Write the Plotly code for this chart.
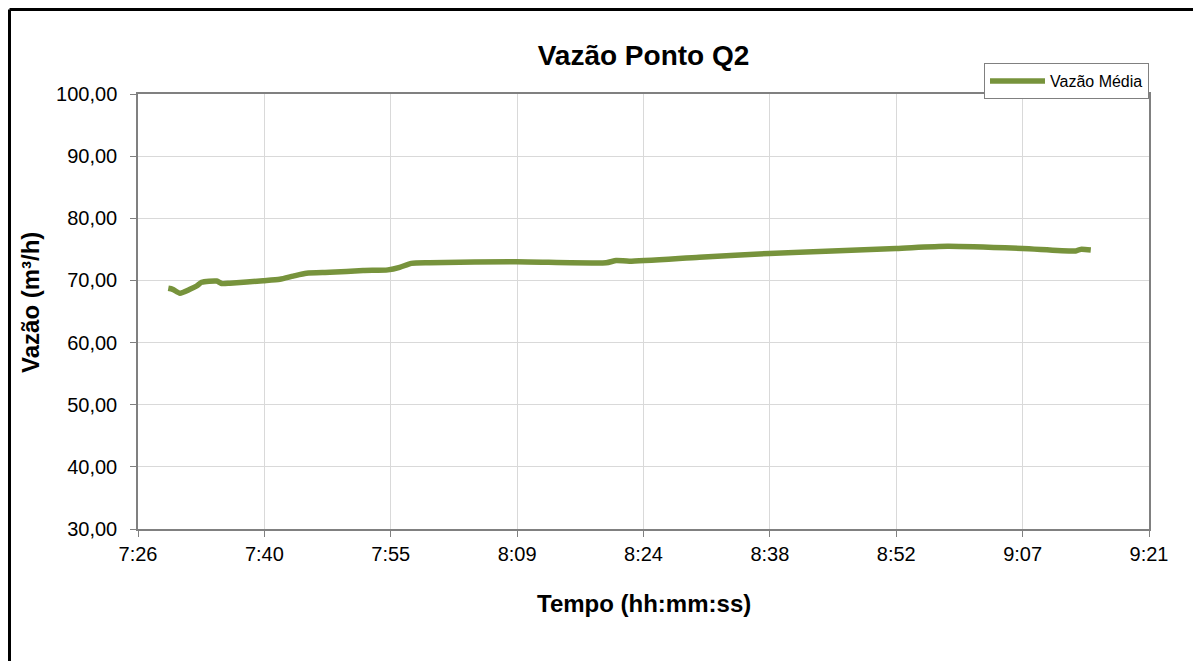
import plotly.graph_objects as go

# Data
times = ["7:29:51", "7:30:21", "7:31:11", "7:32:19", "7:33:05", "7:33:39", "7:35:22",
         "7:35:56", "7:36:52", "7:40:40", "7:42:34", "7:44:05", "7:45:36", "7:48:16",
         "7:52:03", "7:54:53", "7:56:13", "7:57:33", "7:59:38", "8:09:31", "8:19:45",
         "8:20:53", "8:22:24", "8:30:22", "8:38:20", "8:52:46", "8:58:38", "9:07:10",
         "9:13:15", "9:13:49", "9:14:58"]
vazao = [68.73, 68.57, 67.95, 68.57, 69.1, 69.7, 69.9,
         69.5, 69.55, 69.96, 70.2, 70.7, 71.15, 71.3,
         71.6, 71.7, 72.1, 72.75, 72.85, 73.0, 72.85,
         73.2, 73.1, 73.75, 74.35, 75.15, 75.5, 75.15,
         74.75, 75.0, 74.9]
tick_days = [0.31, 0.32, 0.33, 0.34, 0.35, 0.36, 0.37, 0.38, 0.39]
tick_labels = ["7:26", "7:40", "7:55", "8:09", "8:24", "8:38", "8:52", "9:07", "9:21"]


def to_min(s):
    h, m, sec = (int(v) for v in s.split(":"))
    return h * 60 + m + sec / 60.0


x_min = [to_min(t) for t in times]
tick_min = [d * 1440 for d in tick_days]

fig = go.Figure()
fig.add_trace(go.Scatter(
    x=x_min, y=vazao, mode="lines", name="Vazão Média",
    line=dict(color="#77933C", width=5.5, shape="spline", smoothing=0.6),
))

font = "Liberation Sans, Arial, sans-serif"
W, H = 1201, 661
L, R, T, B = 130, 60, 86, 140
pw, ph = W - L - R, H - T - B
bottom = H - B

fig.update_layout(
    width=W, height=H,
    margin=dict(l=L, r=R, t=T, b=B),
    paper_bgcolor="white", plot_bgcolor="white",
    separators=",.",
    font=dict(family=font, color="#000000"),
    title=dict(text="<b>Vazão Ponto Q2</b>", x=0.5, xref="paper", xanchor="center",
               y=1 - 47 / H, yanchor="middle", font=dict(size=28, family=font)),
    showlegend=True,
    legend=dict(x=1.0, xanchor="right", y=(bottom - 55) / ph, yanchor="top",
                bgcolor="white", bordercolor="#808080", borderwidth=1,
                font=dict(size=16, family=font), itemwidth=55,
                tracegroupgap=0),
    xaxis=dict(range=[tick_min[0], tick_min[-1]], tickmode="array",
               tickvals=tick_min, ticktext=tick_labels,
               showgrid=True, gridcolor="#d9d9d9", gridwidth=1,
               showline=True, linecolor="#808080", linewidth=1.5, mirror=True,
               ticks="outside", ticklen=6, tickcolor="#808080",
               tickfont=dict(size=20, family=font),
               zeroline=False),
    yaxis=dict(range=[30, 100], dtick=10, tick0=30, tickformat=".2f",
               showgrid=True, gridcolor="#d9d9d9", gridwidth=1,
               showline=True, linecolor="#808080", linewidth=1.5, mirror=True,
               ticks="outside", ticklen=6, tickcolor="#808080",
               tickfont=dict(size=20, family=font), ticklabelstandoff=9,
               zeroline=False),
)

# axis titles
fig.add_annotation(text="<b>Tempo (hh:mm:ss)</b>", xref="paper", yref="paper",
                   x=0.5, y=(bottom - 595) / ph, xanchor="center", yanchor="middle",
                   showarrow=False, font=dict(size=24, family=font))
fig.add_annotation(text="<b>Vazão (m³/h)</b>", xref="paper", yref="paper",
                   x=(22 - L) / pw, y=(bottom - 295) / ph, xanchor="center",
                   yanchor="middle", textangle=-90,
                   showarrow=False, font=dict(size=24, family=font))

# outer black frame (left and top edges as in the reference)
px_l = (1.5 - L) / pw
py_t = (bottom - 1.5) / ph
fig.add_shape(type="line", xref="paper", yref="paper", x0=px_l, x1=px_l,
              y0=-0.4, y1=py_t, line=dict(color="black", width=3))
fig.add_shape(type="line", xref="paper", yref="paper", x0=px_l, x1=1.1,
              y0=py_t, y1=py_t, line=dict(color="black", width=3))

fig.write_html("out.html")
